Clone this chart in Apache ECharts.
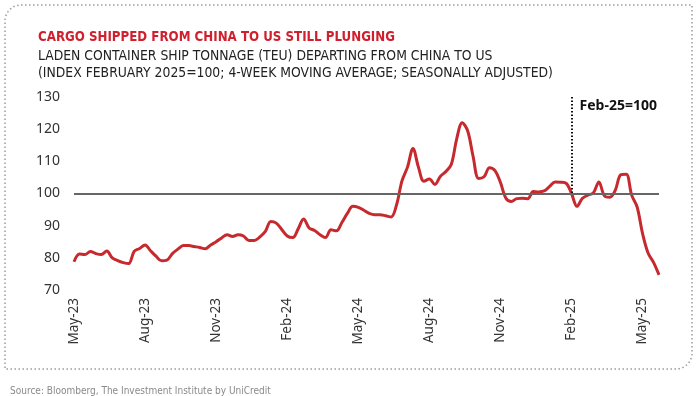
<!DOCTYPE html>
<html lang="en">
<head>
    <meta charset="UTF-8">
    <title>cargo_china_us</title>
    <script src="https://cdn.jsdelivr.net/npm/echarts@6/dist/echarts.min.js"></script>
    <style>
        html, body { margin: 0; padding: 0; background: #fff; }
    </style>
</head>

<body>
    <div id="mainChart" style="width: 700px; height: 396px;"></div>
    <script>
        // weekly index values, May-23 .. late May-25 (Feb 2025 = 100)
        let teuIndex = [
            78.8, 81.2, 81.0, 82.0, 81.3, 81.0, 82.1, 80.0, 79.1, 78.5,
            78.2, 82.0, 82.9, 84.0, 82.2, 80.5, 79.1, 79.3, 81.3, 82.7,
            83.8, 83.8, 83.5, 83.2, 82.8, 84.0, 85.0, 86.2, 87.2, 86.6,
            87.2, 86.8, 85.4, 85.4, 86.5, 88.2, 91.3, 90.8, 88.8, 86.8,
            86.3, 89.0, 92.1, 89.3, 88.5, 87.2, 86.3, 88.7, 88.4, 91.0,
            93.8, 96.0, 95.7, 94.8, 93.8, 93.4, 93.4, 93.1, 92.7, 96.5,
            104.0, 108.2, 114.0, 108.2, 103.8, 104.5, 102.8, 105.3, 106.8, 109.0,
            117.0, 122.0, 119.5, 111.5, 104.7, 105.2, 108.0, 107.1, 103.4, 98.5,
            97.5, 98.4, 98.5, 98.4, 100.6, 100.5, 100.8, 102.2, 103.6, 103.5,
            103.2, 100.0, 96.0, 98.5, 99.5, 100.2, 103.6, 99.3, 98.8, 101.0,
            105.8, 106.0, 99.5, 95.8, 87.5, 81.5, 78.6, 74.7
        ]
        let tickLabels = ['May-23', 'Aug-23', 'Nov-23', 'Feb-24', 'May-24', 'Aug-24', 'Nov-24', 'Feb-25', 'May-25']
        let yTicks = [70, 80, 90, 100, 110, 120, 130]

        // one category per week, starting 6 May 2023
        let weeks = []
        for (let i = 0; i < teuIndex.length; i++) {
            weeks.push(new Date(Date.UTC(2023, 4, 6) + i * 7 * 864e5).toISOString().slice(0, 10))
        }
        let baseWeek = weeks[91]

        let narrow = "'Liberation Sans Narrow', 'DejaVu Sans Condensed', 'Noto Sans', sans-serif"
        let plain = "'Noto Sans', 'Open Sans', sans-serif"

        let chartsData = {
            animation: false,
            title: [
                {
                    text: 'CARGO SHIPPED FROM CHINA TO US STILL PLUNGING',
                    left: 33, top: 26,
                    textStyle: { color: '#d0202e', fontSize: 13.2, fontWeight: 'bold', fontFamily: narrow }
                },
                {
                    text: 'LADEN CONTAINER SHIP TONNAGE (TEU) DEPARTING FROM CHINA TO US\n(INDEX FEBRUARY 2025=100; 4-WEEK MOVING AVERAGE; SEASONALLY ADJUSTED)',
                    left: 33, top: 43,
                    textStyle: { color: '#222', fontSize: 13.8, fontWeight: 'normal', fontFamily: narrow, lineHeight: 17 }
                },
                {
                    text: 'Source: Bloomberg, The Investment Institute by UniCredit',
                    left: 5, top: 381,
                    textStyle: { color: '#8a8a8a', fontSize: 10, fontWeight: 'normal', fontFamily: narrow }
                }
            ],
            graphic: [
                {
                    type: 'rect',
                    shape: { x: 5, y: 5, width: 687, height: 364, r: [16, 0, 16, 0] },
                    style: { fill: 'none', stroke: '#9a9a9a', lineWidth: 1.5, lineDash: [1.5, 2.5] },
                    silent: true
                }
            ],
            grid: {
                left: 74, right: 41, top: 97, bottom: 106
            },
            xAxis: {
                type: 'category',
                boundaryGap: false,
                data: weeks,
                axisLine: { show: false },
                axisTick: { show: false },
                axisLabel: {
                    interval: 12,
                    rotate: 90,
                    margin: 8,
                    color: '#333',
                    fontSize: 13.5,
                    fontFamily: plain,
                    formatter: function (val, idx) {
                        return tickLabels[Math.round(idx / 13)]
                    }
                }
            },
            yAxis: {
                type: 'value',
                min: yTicks[0],
                max: yTicks[yTicks.length - 1],
                interval: 10,
                splitLine: { show: false },
                axisLine: { show: false },
                axisTick: { show: false },
                axisLabel: { color: '#333', fontSize: 14, fontFamily: plain, margin: 14 }
            },
            series: [
                {
                    type: 'line',
                    name: 'TEU index',
                    data: teuIndex,
                    showSymbol: false,
                    smooth: 0.35,
                    lineStyle: { color: '#c62a2f', width: 3 },
                    z: 3,
                    markLine: {
                        silent: true,
                        symbol: 'none',
                        label: { show: false },
                        data: [
                            { yAxis: 100, lineStyle: { color: '#666', width: 2, type: 'solid' } },
                            [
                                { coord: [baseWeek, 130], lineStyle: { color: '#111', width: 2, type: [1.5, 2] } },
                                { coord: [baseWeek, 100] }
                            ]
                        ]
                    },
                    markPoint: {
                        silent: true,
                        symbol: 'circle',
                        symbolSize: 0,
                        data: [{ coord: [baseWeek, 127.3] }],
                        label: {
                            show: true,
                            position: 'right',
                            distance: 8,
                            formatter: 'Feb-25=100',
                            color: '#111',
                            fontSize: 14,
                            fontWeight: 'bold',
                            fontFamily: plain
                        }
                    }
                }
            ]
        }

        let charts = echarts.init(document.querySelector('#mainChart'))
        charts.setOption(chartsData, true)

        window.addEventListener("resize", function () {
            charts.resize()
        })
    </script>
</body>

</html>
